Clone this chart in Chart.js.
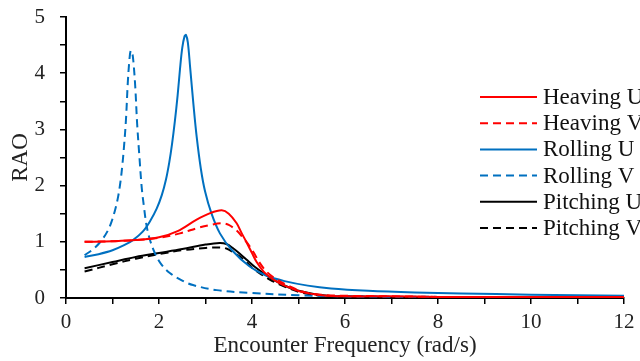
<!DOCTYPE html>
<html>
<head>
<meta charset="utf-8">
<script src="https://cdn.jsdelivr.net/npm/chart.js@4.4.1/dist/chart.umd.min.js"></script>
<style>
  body { margin: 0; background: #fff; }
  #wrap { width: 640px; height: 361px; }
</style>
</head>
<body>
<div id="wrap"><canvas id="rao" width="640" height="361"></canvas></div>
<script>
// frequency (rad/s) and RAO for each series
var heaveUx = [0.4, 1, 1.5, 2, 2.4, 2.8, 3.1, 3.35, 3.5, 3.67, 3.78, 3.89, 4.0, 4.1, 4.25, 4.39, 4.6, 4.82, 5.1, 5.5, 6, 7, 8, 9, 10, 11, 12];
var heaveUy = [1.0, 1.01, 1.03, 1.08, 1.19, 1.39, 1.51, 1.56, 1.5, 1.33, 1.15, 0.98, 0.8, 0.64, 0.47, 0.37, 0.26, 0.18, 0.1, 0.05, 0.03, 0.03, 0.02, 0.02, 0.02, 0.02, 0.02];

var heaveVx = [0.4, 1, 1.5, 2, 2.45, 2.85, 3.1, 3.35, 3.5, 3.67, 3.8, 3.96, 4.07, 4.17, 4.3, 4.46, 4.75, 5.0, 5.2, 5.6, 6, 7, 8, 9, 10, 11, 12];
var heaveVy = [1.0, 1.01, 1.03, 1.07, 1.15, 1.25, 1.3, 1.33, 1.3, 1.2, 1.08, 0.91, 0.76, 0.62, 0.48, 0.37, 0.23, 0.14, 0.09, 0.05, 0.04, 0.03, 0.02, 0.02, 0.02, 0.02, 0.02];

var rollUx = [0.4, 0.7, 1.0, 1.25, 1.44, 1.65, 1.81, 1.95, 2.06, 2.15, 2.22, 2.28, 2.34, 2.4, 2.45, 2.5, 2.55, 2.58, 2.62, 2.67, 2.74, 2.81, 2.9, 2.99, 3.13, 3.31, 3.57, 3.95, 4.3, 4.7, 5.2, 5.7, 6.5, 7.5, 8.5, 10, 12];
var rollUy = [0.73, 0.78, 0.85, 0.94, 1.03, 1.18, 1.37, 1.59, 1.83, 2.11, 2.41, 2.74, 3.14, 3.6, 4.06, 4.45, 4.66, 4.68, 4.55, 4.1, 3.45, 2.87, 2.3, 1.9, 1.5, 1.15, 0.85, 0.56, 0.4, 0.3, 0.22, 0.17, 0.13, 0.1, 0.08, 0.06, 0.04];

var rollVx = [0.4, 0.6, 0.77, 0.9, 0.98, 1.06, 1.12, 1.17, 1.21, 1.25, 1.29, 1.33, 1.36, 1.39, 1.42, 1.45, 1.49, 1.53, 1.58, 1.63, 1.68, 1.73, 1.8, 1.91, 2.05, 2.24, 2.5, 2.73, 3.24, 3.96, 5, 6, 8, 10, 12];
var rollVy = [0.76, 0.88, 1.03, 1.2, 1.36, 1.58, 1.8, 2.06, 2.35, 2.72, 3.18, 3.85, 4.2, 4.4, 4.38, 4.2, 3.75, 3.1, 2.5, 1.95, 1.6, 1.3, 1.05, 0.8, 0.6, 0.44, 0.31, 0.23, 0.14, 0.09, 0.05, 0.03, 0.02, 0.02, 0.02];

var pitchUx = [0.4, 1, 1.5, 2, 2.5, 3, 3.3, 3.45, 3.6, 3.75, 3.9, 4.05, 4.25, 4.45, 4.65, 4.85, 5.1, 5.5, 6, 7, 8, 9, 10, 11, 12];
var pitchUy = [0.53, 0.64, 0.73, 0.8, 0.87, 0.95, 0.98, 0.96, 0.88, 0.78, 0.67, 0.56, 0.44, 0.33, 0.24, 0.17, 0.11, 0.05, 0.03, 0.02, 0.01, 0.01, 0.01, 0.01, 0.01];

var pitchVx = [0.4, 1, 1.5, 2, 2.5, 3, 3.3, 3.45, 3.6, 3.8, 4.0, 4.2, 4.4, 4.6, 4.8, 5.05, 5.4, 6, 7, 8, 9, 10, 11, 12];
var pitchVy = [0.47, 0.6, 0.7, 0.78, 0.85, 0.89, 0.9, 0.88, 0.81, 0.7, 0.54, 0.42, 0.32, 0.24, 0.17, 0.1, 0.05, 0.03, 0.02, 0.01, 0.01, 0.01, 0.01, 0.01];

var seriesNames = ['Heaving U', 'Heaving V', 'Rolling U', 'Rolling V', 'Pitching U', 'Pitching V'];

var RED = '#ff0000', BLUE = '#0070c0', BLACK = '#000000';
var DASH = [8, 5];
var FONT = "'Liberation Serif', 'Times New Roman', serif";

function pts(xs, ys) {
  var out = [];
  for (var i = 0; i < xs.length; i++) out.push({ x: xs[i], y: ys[i] });
  return out;
}

function makeSet(name, xs, ys, color, dashed) {
  return {
    label: name,
    data: pts(xs, ys),
    borderColor: color,
    backgroundColor: color,
    borderWidth: 2,
    borderDash: dashed ? DASH : [],
    pointRadius: 0,
    fill: false,
    tension: 0.35
  };
}

// legend drawn over the right part of the plot, as in the figure
var sideLegend = {
  id: 'sideLegend',
  afterDraw: function(chart) {
    var ctx = chart.ctx;
    var sets = chart.data.datasets;
    ctx.save();
    ctx.font = '23px ' + FONT;
    ctx.textBaseline = 'middle';
    for (var i = 0; i < sets.length; i++) {
      var y = 97 + i * 26.2;
      ctx.beginPath();
      ctx.strokeStyle = sets[i].borderColor;
      ctx.lineWidth = 2;
      ctx.setLineDash(sets[i].borderDash);
      ctx.moveTo(480, y);
      ctx.lineTo(537, y);
      ctx.stroke();
      ctx.setLineDash([]);
      ctx.fillStyle = '#111';
      ctx.fillText(sets[i].label, 543, y + 1);
    }
    ctx.restore();
  }
};

new Chart(document.getElementById('rao'), {
  type: 'line',
  data: {
    datasets: [
      makeSet(seriesNames[0], heaveUx, heaveUy, RED, false),
      makeSet(seriesNames[1], heaveVx, heaveVy, RED, true),
      makeSet(seriesNames[2], rollUx, rollUy, BLUE, false),
      makeSet(seriesNames[3], rollVx, rollVy, BLUE, true),
      makeSet(seriesNames[4], pitchUx, pitchUy, BLACK, false),
      makeSet(seriesNames[5], pitchVx, pitchVy, BLACK, true)
    ]
  },
  options: {
    responsive: false,
    animation: false,
    layout: { padding: { top: 17, right: 16, left: 0, bottom: 0 } },
    plugins: {
      legend: { display: false },
      tooltip: { enabled: false }
    },
    scales: {
      x: {
        type: 'linear',
        min: 0,
        max: 12,
        afterFit: function(s) { s.height = 63; s.paddingRight = 0; s.paddingLeft = 0; },
        border: { color: '#000', width: 2 },
        grid: { drawOnChartArea: false, color: '#000', tickLength: 6, lineWidth: 1.5 },
        ticks: {
          stepSize: 1,
          padding: 6,
          color: '#222',
          font: { family: FONT, size: 21 },
          maxRotation: 0,
          autoSkip: false,
          callback: function(v) { return v % 2 === 0 ? String(v) : ''; }
        },
        title: {
          display: true,
          text: 'Encounter Frequency (rad/s)',
          color: '#222',
          font: { family: FONT, size: 23 },
          padding: { top: 0, bottom: 1 }
        }
      },
      y: {
        min: 0,
        max: 5,
        afterFit: function(s) { s.width = 66; s.paddingTop = 0; s.paddingBottom = 0; },
        border: { color: '#000', width: 2 },
        grid: { drawOnChartArea: false, color: '#000', tickLength: 6, lineWidth: 1.5 },
        ticks: {
          stepSize: 0.5,
          padding: 15,
          color: '#222',
          font: { family: FONT, size: 21 },
          autoSkip: false,
          callback: function(v) { return Number.isInteger(v) ? String(v) : ''; }
        },
        title: {
          display: true,
          text: 'RAO',
          color: '#222',
          font: { family: FONT, size: 23 },
          padding: { top: 7, bottom: 0 }
        }
      }
    }
  },
  plugins: [sideLegend]
});
</script>
</body>
</html>
